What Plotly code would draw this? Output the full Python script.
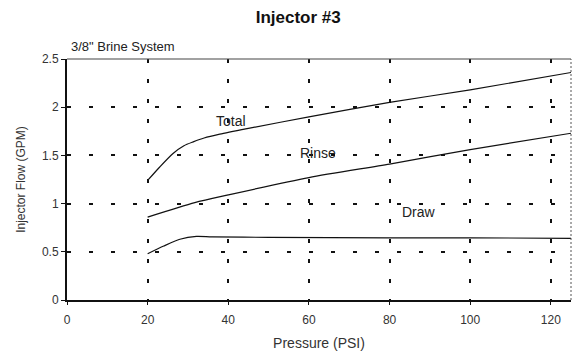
import plotly.graph_objects as go

# Injector flow curves vs. line pressure
pressure_total = [20, 23, 26.3, 29, 31.3, 34, 37.9, 45, 60, 80, 100, 125]
flow_total = [1.24, 1.38, 1.52, 1.60, 1.64, 1.68, 1.72, 1.78, 1.90, 2.05, 2.18, 2.36]

pressure_rinse = [20, 31.7, 40, 60, 80, 100, 125]
flow_rinse = [0.86, 1.01, 1.09, 1.27, 1.41, 1.56, 1.73]

pressure_draw = [20, 24, 28, 32.1, 36, 50, 80, 100, 125]
flow_draw = [0.48, 0.56, 0.63, 0.66, 0.655, 0.65, 0.645, 0.645, 0.64]

x_ticks = [0, 20, 40, 60, 80, 100, 120]
y_ticks = [0, 0.5, 1, 1.5, 2, 2.5]
y_tick_text = ["0", "0.5", "1", "1.5", "2", "2.5"]

curve_labels = ["Total", "Rinse", "Draw"]
label_x = [40.6, 62.3, 87.3]
label_y = [1.86, 1.52, 0.91]

FONT = "Liberation Sans, Arial, sans-serif"
line_style = dict(color="#111111", width=1.2)

fig = go.Figure()
for px_, fy in [(pressure_total, flow_total), (pressure_rinse, flow_rinse), (pressure_draw, flow_draw)]:
    fig.add_trace(go.Scatter(x=px_, y=fy, mode="lines", line=dict(**line_style, smoothing=0.7),
                             line_shape="spline", showlegend=False, hoverinfo="skip"))

for name, lx, ly in zip(curve_labels, label_x, label_y):
    fig.add_annotation(x=lx, y=ly, text=name, showarrow=False,
                       font=dict(family=FONT, size=14, color="#222222"))

# Plot frame: faint top edge, dotted right edge
fig.add_shape(type="line", xref="paper", yref="paper", x0=0, x1=1, y0=1, y1=1,
              line=dict(color="#444444", width=1.2))
fig.add_shape(type="line", xref="paper", yref="paper", x0=1, x1=1, y0=0, y1=1,
              line=dict(color="#555555", width=1, dash="2px,2px"))

fig.update_layout(
    width=579, height=357,
    margin=dict(l=67, r=8, t=59, b=54),
    paper_bgcolor="white", plot_bgcolor="white",
    font=dict(family=FONT, size=11, color="#222222"),
    title=dict(text="<b>Injector #3</b>", x=0.515, xanchor="center", y=0.953, yanchor="middle",
               font=dict(family=FONT, size=17, color="#111111")),
    xaxis=dict(range=[0, 125], tickvals=x_ticks, ticks="outside", ticklen=3,
               tickcolor="#111111", showline=True, linecolor="#111111", linewidth=2,
               showgrid=True, gridcolor="#111111", gridwidth=1.5, griddash="4px,16px",
               zeroline=False, tickfont=dict(size=12, color="#333333"), ticklabelstandoff=5,
               title=dict(text="Pressure (PSI)", font=dict(size=14, color="#333333"), standoff=12)),
    yaxis=dict(range=[0, 2.5], tickvals=y_ticks, ticktext=y_tick_text, ticks="outside",
               ticklen=4, tickcolor="#111111", showline=True, linecolor="#111111", linewidth=2,
               showgrid=True, gridcolor="#111111", gridwidth=1.5, griddash="4px,18px",
               zeroline=False, tickfont=dict(size=12, color="#333333"),
               title=dict(text="Injector Flow (GPM)", font=dict(size=12, color="#333333"), standoff=14)),
)

fig.add_annotation(xref="paper", yref="paper", x=0.004, y=1.0, yshift=3, xanchor="left", yanchor="bottom",
                   text="3/8\" Brine System", showarrow=False,
                   font=dict(family=FONT, size=13, color="#222222"))

fig.write_html("out.html")
